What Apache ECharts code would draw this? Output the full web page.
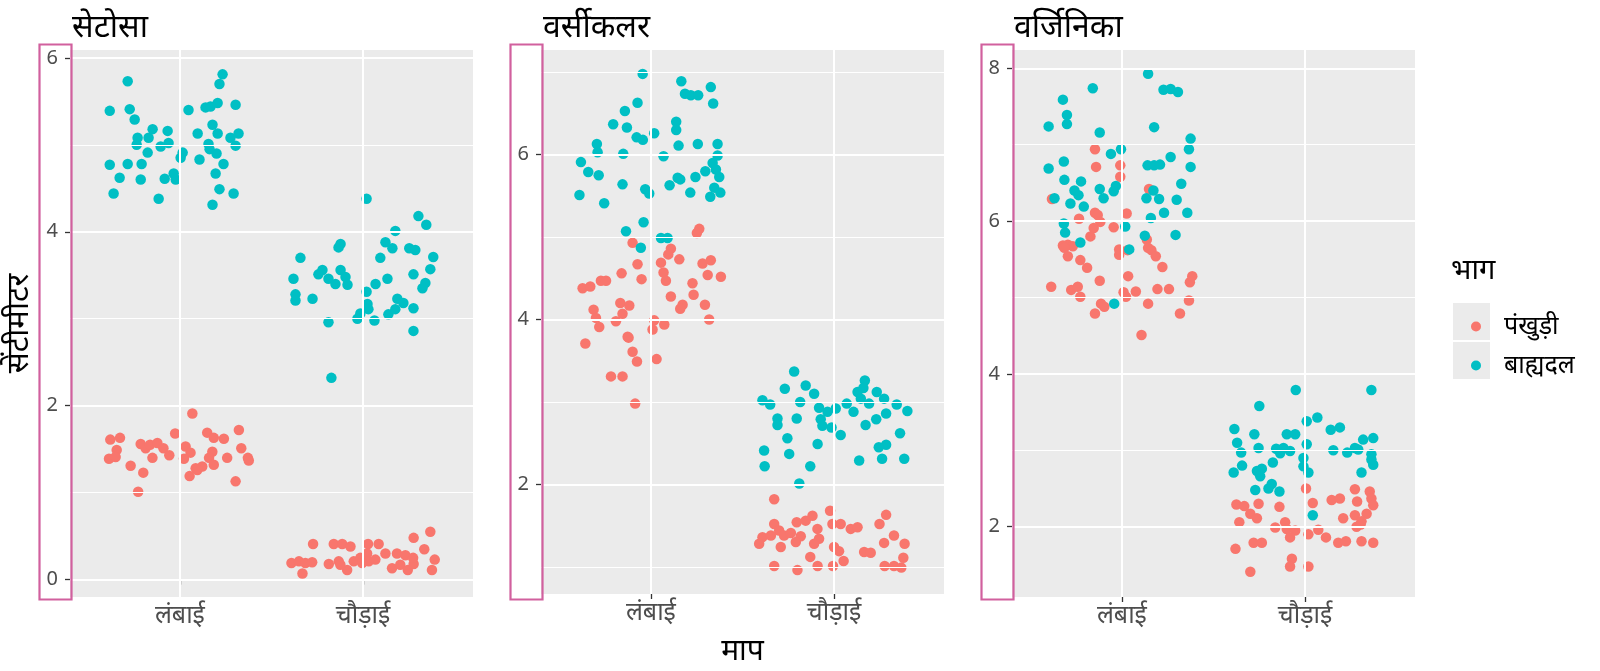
<!DOCTYPE html>
<html>
<head>
<meta charset="utf-8">
<script src="https://cdn.jsdelivr.net/npm/echarts@6/dist/echarts.min.js"></script>
<style>html,body{margin:0;padding:0;background:#fff}#c{width:1600px;height:671px}</style>
</head>
<body>
<div id="c"></div>
<script>
const categories = ['लंबाई', 'चौड़ाई'];
const species = ['सेटोसा', 'वर्सीकलर', 'वर्जिनिका'];
const parts = ['पंखुड़ी', 'बाह्यदल'];
const yMajor = [[0, 2, 4, 6], [2, 4, 6], [2, 4, 6, 8]];
const yMinor = [[1, 3, 5], [1, 3, 5, 7], [3, 5, 7]];
const yRange = [[-0.2, 6.09], [0.67, 7.27], [1.08, 8.24]];

// सेटोसा
const setosaPetalLen = [[1.068,1.91],[0.974,1.68],[0.62,1.61],[0.673,1.63],[0.655,1.49],[0.613,1.39],[0.649,1.41],[0.731,1.31],[0.80,1.23],[0.772,1.01],[0.786,1.56],[0.813,1.51],[0.837,1.55],[0.877,1.57],[0.85,1.40],[0.91,1.51],[0.942,1.43],[1.031,1.53],[1.058,1.46],[1.022,1.39],[1.053,1.19],[1.086,1.28],[1.122,1.30],[1.149,1.69],[1.185,1.63],[1.24,1.62],[1.177,1.47],[1.159,1.40],[1.185,1.32],[1.258,1.40],[1.322,1.72],[1.335,1.51],[1.371,1.40],[1.376,1.37],[1.304,1.13],[1.095,1.26]];
const setosaPetalWid = [[1.727,0.41],[1.84,0.41],[1.886,0.41],[1.931,0.38],[2.027,0.41],[2.085,0.41],[2.276,0.48],[2.367,0.55],[2.334,0.35],[2.391,0.23],[2.376,0.11],[1.609,0.19],[1.65,0.21],[1.685,0.19],[1.722,0.20],[1.669,0.07],[1.813,0.18],[1.867,0.21],[1.913,0.11],[1.949,0.21],[1.985,0.25],[2.022,0.30],[2.031,0.21],[2.067,0.23],[2.122,0.30],[2.185,0.30],[2.231,0.28],[2.158,0.13],[2.203,0.17],[2.244,0.11],[2.276,0.18],[2.273,0.25],[1.876,0.17],[1.995,0.19]];
const setosaSepalLen = [[0.617,5.39],[0.715,5.73],[0.726,5.41],[0.753,5.29],[0.769,5.08],[0.764,5.00],[0.829,5.08],[0.851,5.18],[0.933,5.16],[0.938,5.02],[0.895,4.98],[0.824,4.91],[0.617,4.77],[0.715,4.78],[0.791,4.78],[0.671,4.62],[0.786,4.60],[0.638,4.44],[0.884,4.38],[0.917,4.61],[0.966,4.67],[0.977,4.60],[1.015,4.91],[1.004,4.85],[1.047,5.40],[1.097,5.13],[1.107,4.83],[1.140,5.43],[1.167,5.44],[1.206,5.48],[1.178,5.23],[1.206,5.13],[1.156,5.01],[1.162,4.95],[1.200,4.90],[1.238,4.78],[1.195,4.67],[1.216,4.49],[1.178,4.31],[1.293,4.44],[1.233,5.81],[1.216,5.70],[1.304,5.46],[1.276,5.08],[1.320,5.13],[1.304,4.99]];
const setosaSepalWid = [[2.019,4.38],[2.302,4.18],[2.345,4.08],[2.176,4.01],[1.877,3.86],[1.866,3.82],[2.122,3.88],[2.16,3.81],[2.252,3.81],[2.285,3.79],[2.383,3.71],[1.658,3.70],[2.094,3.70],[2.367,3.57],[1.62,3.46],[1.756,3.51],[1.778,3.56],[1.811,3.46],[1.849,3.40],[1.877,3.56],[1.904,3.48],[1.915,3.39],[2.068,3.40],[2.133,3.46],[2.019,3.31],[2.275,3.51],[2.34,3.41],[2.324,3.35],[1.631,3.28],[1.631,3.21],[1.724,3.23],[2.187,3.23],[2.22,3.18],[2.024,3.17],[2.029,3.11],[1.985,3.06],[1.969,3.00],[2.062,2.98],[2.138,3.05],[2.176,3.11],[2.275,3.12],[1.811,2.96],[2.275,2.86],[1.827,2.32]];

// वर्सीकलर
const versiPetalLen = [[1.264,5.10],[1.251,5.05],[0.90,4.93],[1.109,4.86],[1.095,4.79],[1.055,4.69],[1.155,4.73],[0.927,4.67],[1.282,4.68],[1.327,4.72],[1.31,4.54],[1.382,4.52],[1.069,4.57],[1.082,4.47],[0.84,4.56],[0.949,4.49],[0.727,4.47],[0.755,4.47],[0.627,4.38],[0.669,4.40],[1.227,4.44],[1.109,4.28],[1.233,4.30],[1.173,4.18],[1.16,4.13],[1.295,4.18],[1.318,4.00],[0.833,4.20],[0.882,4.17],[0.845,4.07],[0.687,4.12],[0.70,4.02],[0.718,3.91],[0.809,3.98],[1.018,3.99],[1.073,3.94],[1.009,3.88],[0.873,3.79],[0.642,3.71],[0.878,3.78],[0.90,3.61],[0.924,3.49],[0.782,3.31],[0.845,3.31],[1.031,3.52],[0.914,2.98]];
const versiPetalWid = [[1.673,1.82],[1.978,1.68],[1.882,1.62],[2.284,1.63],[2.248,1.52],[1.673,1.52],[1.70,1.44],[1.796,1.54],[1.845,1.56],[1.909,1.46],[1.991,1.52],[2.036,1.52],[2.091,1.46],[2.128,1.48],[1.609,1.36],[1.655,1.38],[1.727,1.38],[1.764,1.41],[1.818,1.37],[1.918,1.34],[1.891,1.28],[1.591,1.28],[1.709,1.24],[1.791,1.30],[2.0,1.24],[2.027,1.19],[2.327,1.38],[2.273,1.29],[2.385,1.28],[2.164,1.18],[2.20,1.17],[1.87,1.12],[1.673,1.01],[1.80,0.96],[1.91,1.01],[1.994,1.01],[2.052,1.07],[2.276,1.01],[2.327,1.01],[2.367,0.99],[2.378,1.11]];
const versiSepalLen = [[0.955,6.98],[1.166,6.89],[1.186,6.74],[1.218,6.72],[1.258,6.72],[1.327,6.82],[1.34,6.62],[0.927,6.63],[0.858,6.53],[0.794,6.37],[0.869,6.33],[0.922,6.21],[0.956,6.18],[1.018,6.26],[1.138,6.40],[1.138,6.30],[1.151,6.11],[1.256,6.13],[1.364,6.13],[0.705,6.13],[0.709,6.03],[0.849,6.01],[1.069,5.98],[1.364,5.99],[0.618,5.91],[0.658,5.79],[0.715,5.75],[0.61,5.51],[0.745,5.41],[0.845,5.64],[0.969,5.58],[0.991,5.53],[1.102,5.63],[1.146,5.72],[1.16,5.70],[1.215,5.54],[1.243,5.73],[1.297,5.80],[1.337,5.90],[1.355,5.82],[1.373,5.73],[1.346,5.60],[1.379,5.54],[1.324,5.49],[0.96,5.18],[0.864,5.07],[1.055,4.99],[1.091,4.99],[0.945,4.87]];
const versiSepalWid = [[1.782,3.37],[1.731,3.16],[1.845,3.20],[1.891,3.10],[1.609,3.02],[1.651,2.97],[1.815,3.00],[1.918,2.93],[1.964,2.88],[2.009,2.92],[2.069,2.98],[2.106,2.88],[2.128,3.12],[2.168,3.26],[2.16,3.17],[2.146,3.04],[2.191,2.98],[2.233,3.12],[2.273,3.04],[2.342,2.97],[2.40,2.89],[2.284,2.86],[2.23,2.79],[2.172,2.72],[2.36,2.62],[2.284,2.48],[2.244,2.45],[2.262,2.31],[2.383,2.31],[2.137,2.29],[1.691,2.80],[1.691,2.72],[1.796,2.80],[1.927,2.79],[1.936,2.71],[1.986,2.69],[2.036,2.60],[1.745,2.56],[1.91,2.49],[1.618,2.41],[1.755,2.37],[1.621,2.22],[1.87,2.22],[1.81,2.01]];

// वर्जिनिका
const virgPetalLen = [[0.853,6.94],[0.859,6.71],[0.991,6.73],[0.991,6.58],[1.148,6.42],[0.618,6.29],[0.853,6.11],[0.868,6.08],[1.026,6.10],[0.766,6.03],[0.882,5.99],[0.846,5.91],[0.955,5.92],[0.828,5.80],[0.678,5.68],[0.705,5.69],[0.732,5.67],[0.686,5.65],[0.705,5.54],[0.773,5.49],[0.81,5.39],[0.985,5.56],[0.985,5.63],[1.031,5.62],[1.136,5.76],[1.143,5.65],[1.161,5.62],[1.185,5.54],[1.221,5.40],[1.034,5.28],[0.879,5.22],[0.614,5.14],[0.723,5.10],[0.759,5.14],[0.773,5.01],[1.009,5.07],[1.022,5.01],[1.076,5.08],[1.194,5.11],[1.257,5.11],[1.371,5.20],[1.384,5.28],[1.366,4.96],[0.886,4.92],[0.904,4.88],[1.143,4.92],[0.853,4.79],[1.317,4.79],[1.107,4.51]];
const virgPetalWid = [[2.005,2.50],[2.272,2.49],[2.353,2.46],[2.362,2.37],[1.625,2.29],[1.668,2.27],[1.746,2.30],[1.86,2.26],[2.042,2.31],[2.145,2.35],[2.19,2.37],[2.284,2.33],[2.372,2.28],[1.701,2.17],[1.737,2.11],[1.641,2.06],[1.891,2.06],[2.208,2.11],[2.272,2.15],[2.336,2.17],[2.308,2.07],[1.837,1.99],[1.90,1.97],[1.946,1.95],[1.918,1.86],[2.072,1.96],[2.018,1.90],[2.114,1.86],[2.281,2.00],[2.303,2.03],[2.181,1.79],[2.223,1.81],[2.308,1.81],[2.372,1.79],[1.719,1.79],[1.764,1.79],[1.62,1.71],[1.928,1.58],[1.918,1.48],[2.018,1.48],[1.701,1.41]];
const virgSepalLen = [[1.143,7.93],[0.841,7.74],[0.678,7.59],[0.70,7.39],[0.70,7.27],[0.60,7.24],[0.879,7.16],[1.176,7.23],[1.227,7.72],[1.266,7.73],[1.306,7.69],[1.375,7.08],[1.366,6.94],[1.375,6.71],[0.995,6.94],[0.94,6.88],[1.266,6.84],[0.60,6.69],[0.683,6.78],[1.14,6.73],[1.176,6.73],[1.208,6.74],[0.686,6.54],[0.777,6.52],[1.324,6.49],[0.741,6.40],[0.763,6.34],[0.879,6.42],[0.967,6.46],[0.955,6.39],[0.632,6.30],[0.719,6.23],[0.792,6.19],[0.90,6.30],[1.134,6.30],[1.172,6.40],[1.203,6.29],[1.299,6.28],[1.23,6.11],[1.357,6.11],[1.158,6.04],[0.683,5.97],[0.69,5.85],[1.018,5.93],[1.125,5.81],[1.293,5.82],[0.773,5.72],[1.04,5.63],[0.958,4.92]];
const virgSepalWid = [[1.949,3.79],[2.362,3.79],[1.75,3.58],[2.009,3.38],[2.067,3.43],[1.614,3.28],[1.723,3.21],[1.90,3.21],[1.946,3.21],[2.14,3.27],[2.19,3.30],[2.317,3.14],[2.372,3.16],[1.629,3.10],[1.746,3.03],[2.009,3.08],[1.842,3.02],[1.882,3.03],[1.918,2.99],[1.651,2.97],[2.154,3.00],[2.23,2.97],[2.272,3.03],[2.29,3.01],[2.362,2.95],[1.864,2.96],[1.991,2.90],[2.372,2.81],[2.362,2.88],[1.824,2.84],[1.991,2.79],[2.018,2.71],[1.61,2.71],[1.656,2.80],[1.737,2.73],[1.764,2.76],[1.755,2.66],[2.308,2.71],[1.818,2.56],[1.86,2.46],[1.80,2.50],[1.728,2.48],[2.042,2.15]];

const petalData = [setosaPetalLen.concat(setosaPetalWid), versiPetalLen.concat(versiPetalWid), virgPetalLen.concat(virgPetalWid)];
const sepalData = [setosaSepalLen.concat(setosaSepalWid), versiSepalLen.concat(versiSepalWid), virgSepalLen.concat(virgSepalWid)];

const FONT = "'Noto Sans', 'DejaVu Sans', sans-serif";
const COLORS = ['#F8766D', '#00BFC4'];
const panelLeft = [70, 541, 1012];
const panelW = 403, panelTop = 50, panelH = 547;

const grids = [], xAxes = [], yAxes = [], series = [], titles = [], graphics = [];
for (let i = 0; i < 3; i++) {
  grids.push({left: panelLeft[i], top: panelTop, width: panelW, height: panelH, show: true,
    backgroundColor: '#EBEBEB', borderWidth: 0, containLabel: false});
  xAxes.push({type: 'value', gridIndex: i, min: 0.4, max: 2.6,
    axisLine: {show: false}, splitLine: {show: false},
    axisTick: {show: true, customValues: [1, 2], length: 5, lineStyle: {color: '#333333', width: 1.3}},
    axisLabel: {customValues: [1, 2], formatter: v => categories[Math.round(v) - 1],
      fontSize: 25, color: '#4D4D4D', fontFamily: FONT, margin: 6},
    name: i === 1 ? 'माप' : '', nameLocation: 'middle', nameGap: 42,
    nameTextStyle: {fontSize: 30, color: '#000', fontFamily: FONT}});
  yAxes.push({type: 'value', gridIndex: i, min: yRange[i][0], max: yRange[i][1],
    axisLine: {show: false}, splitLine: {show: false},
    axisTick: {show: true, customValues: yMajor[i], length: 5, lineStyle: {color: '#333333', width: 1.3}},
    axisLabel: {customValues: yMajor[i], fontSize: 20, color: '#4D4D4D', fontFamily: FONT, margin: 12},
    name: i === 0 ? 'सेंटीमीटर' : '', nameLocation: 'middle', nameGap: 35, nameRotate: 90,
    nameTextStyle: {fontSize: 31, color: '#000', fontFamily: FONT}});
  const lines = [];
  yMinor[i].forEach(v => lines.push({yAxis: v, lineStyle: {width: 1}}));
  yMajor[i].forEach(v => lines.push({yAxis: v, lineStyle: {width: 2}}));
  [1, 2].forEach(v => lines.push({xAxis: v, lineStyle: {width: 2}}));
  series.push({type: 'scatter', name: 'grid' + i, xAxisIndex: i, yAxisIndex: i, data: [], z: 1, silent: true,
    markLine: {silent: true, symbol: ['none', 'none'], label: {show: false},
      lineStyle: {color: '#FFFFFF', type: 'solid', width: 2}, data: lines, animation: false}});
  series.push({type: 'scatter', name: parts[0], xAxisIndex: i, yAxisIndex: i, data: petalData[i],
    symbolSize: 10.5, itemStyle: {color: COLORS[0], opacity: 1}, z: 3});
  series.push({type: 'scatter', name: parts[1], xAxisIndex: i, yAxisIndex: i, data: sepalData[i],
    symbolSize: 10.5, itemStyle: {color: COLORS[1], opacity: 1}, z: 4});
  titles.push({text: species[i], left: panelLeft[i] - 3, top: 7,
    textStyle: {fontSize: 32, fontWeight: 'normal', color: '#000', fontFamily: FONT}});
  graphics.push({type: 'rect', left: panelLeft[i] - 33, top: 42, shape: {width: 32, height: 555},
    style: {fill: 'none', stroke: '#D1609E', lineWidth: 2.2}, z: 100});
}
// legend key backgrounds & title
graphics.push({type: 'rect', left: 1453, top: 303, shape: {width: 37, height: 37}, style: {fill: '#EBEBEB'}, z: 0});
graphics.push({type: 'rect', left: 1453, top: 342, shape: {width: 37, height: 37}, style: {fill: '#EBEBEB'}, z: 0});
graphics.push({type: 'text', left: 1451, top: 256, style: {text: 'भाग', fill: '#000', font: "29px 'Noto Sans', sans-serif"}, z: 10});

const chart = echarts.init(document.getElementById('c'), null, {renderer: 'canvas'});
chart.setOption({
  animation: false,
  backgroundColor: '#FFFFFF',
  title: titles,
  grid: grids,
  xAxis: xAxes,
  yAxis: yAxes,
  legend: {data: parts, orient: 'vertical', left: 1466, top: 303, icon: 'circle',
    itemWidth: 10, itemHeight: 10, itemGap: 2, selectedMode: false,
    textStyle: {fontSize: 25, color: '#000', fontFamily: FONT, lineHeight: 37, padding: [0, 0, 0, 18]}},
  graphic: graphics,
  series: series
});
</script>
</body>
</html>
